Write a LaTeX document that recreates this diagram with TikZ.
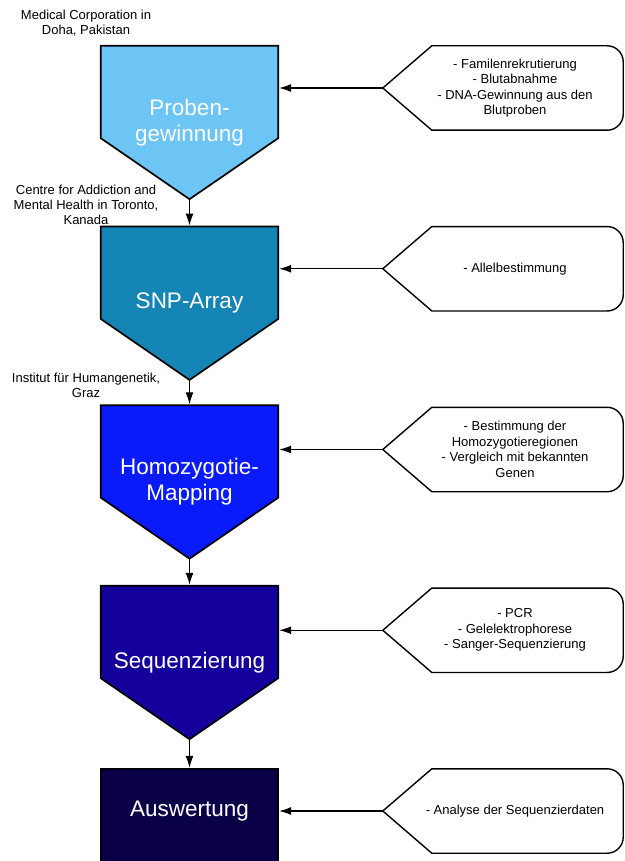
\documentclass[tikz,border=0pt]{standalone}
\usepackage{fontspec}
\setmainfont{Liberation Sans}
\usetikzlibrary{arrows.meta,positioning,calc,backgrounds}
\definecolor{probeblue}{HTML}{6CC5F5}
\definecolor{snpblue}{HTML}{1585B6}
\definecolor{mapblue}{HTML}{0A1BFB}
\definecolor{seqblue}{HTML}{14009A}
\definecolor{evalblue}{HTML}{0A0048}

\begin{document}
\begin{tikzpicture}[x=1pt,y=1pt,>={Latex[length=12pt,width=8pt]},
 every node/.style={align=center},
 stepbox/.style={minimum width=177pt,minimum height=153pt,inner sep=0pt,text=white,font=\fontsize{22.5}{26}\selectfont},
 infobox/.style={minimum width=216pt,minimum height=84pt,inner sep=0pt,font=\fontsize{13}{15.5}\selectfont},
 place/.style={font=\fontsize{13}{15}\selectfont},
 outline/.style={line width=1.7pt,line join=miter},
 link/.style={->,line width=1.1pt,shorten >=1pt}]
\useasboundingbox (0,0) rectangle (624,-861);
% steps
\node[stepbox] (probe) at (189.5,-122.5) {Proben-\\gewinnung};
\node[stepbox] (snp) at (189.5,-303.25) {SNP-Array};
\node[stepbox] (map) at (189.5,-482) {Homozygotie-\\Mapping};
\node[stepbox] (seq) at (189.5,-662.5) {Sequenzierung};
\node[stepbox,minimum height=84pt] (eval) at (189.5,-811) {Auswertung};
% places
\node[place] (doha) at (86,-23.5) {Medical Corporation in\\Doha, Pakistan};
\node[place] (toronto) at (86,-204.5) {Centre for Addiction and\\Mental Health in Toronto,\\Kanada};
\node[place] (graz) at (86,-385.5) {Institut für Humangenetik,\\Graz};
% tasks
\node[infobox] (recruit) at (515,-88) {- Familenrekrutierung\\- Blutabnahme\\- DNA-Gewinnung aus den\\Blutproben};
\node[infobox] (allele) at (515,-268.75) {- Allelbestimmung};
\node[infobox] (regions) at (515,-449.5) {- Bestimmung der\\Homozygotieregionen\\- Vergleich mit bekannten\\Genen};
\node[infobox] (methods) at (515,-630.25) {- PCR\\- Gelelektrophorese\\- Sanger-Sequenzierung};
\node[infobox] (analysis) at (515,-811) {- Analyse der Sequenzierdaten};
\begin{scope}[on background layer]
\foreach \n/\c in {probe/probeblue,snp/snpblue,map/mapblue,seq/seqblue}
 \draw[outline,fill=\c] (\n.north west) -- (\n.north east) -- ($(\n.south east)+(0,61)$)
  -- (\n.south) -- ($(\n.south west)+(0,61)$) -- cycle;
\fill[evalblue] (eval.north west) rectangle ($(eval.south east)+(0,-30)$);
\draw[outline] ($(eval.south west)+(0,-30)$) -- (eval.north west) -- (eval.north east) -- ($(eval.south east)+(0,-30)$);
\foreach \n in {recruit,allele,regions,methods,analysis}
 \draw[outline,line width=1.4pt,fill=white] ($(\n.west)+(-24,0)$) -- ($(\n.north west)+(25,0)$) -- ($(\n.north east)+(-16,0)$)
  arc[start angle=90,end angle=0,radius=16] -- ($(\n.south east)+(0,16)$)
  arc[start angle=0,end angle=-90,radius=16] -- ($(\n.south west)+(25,0)$) -- cycle;
\end{scope}
\draw[link] (probe.south) -- (snp.north);
\draw[link] (snp.south) -- (map.north);
\draw[link] (map.south) -- (seq.north);
\draw[link] (seq.south) -- (eval.north);
\draw[link] ([xshift=-24pt]recruit.west) -- (recruit.west -| probe.east);
\draw[link] ([xshift=-24pt]allele.west) -- (allele.west -| snp.east);
\draw[link] ([xshift=-24pt]regions.west) -- (regions.west -| map.east);
\draw[link] ([xshift=-24pt]methods.west) -- (methods.west -| seq.east);
\draw[link] ([xshift=-24pt]analysis.west) -- (analysis.west -| eval.east);
\end{tikzpicture}
\end{document}
